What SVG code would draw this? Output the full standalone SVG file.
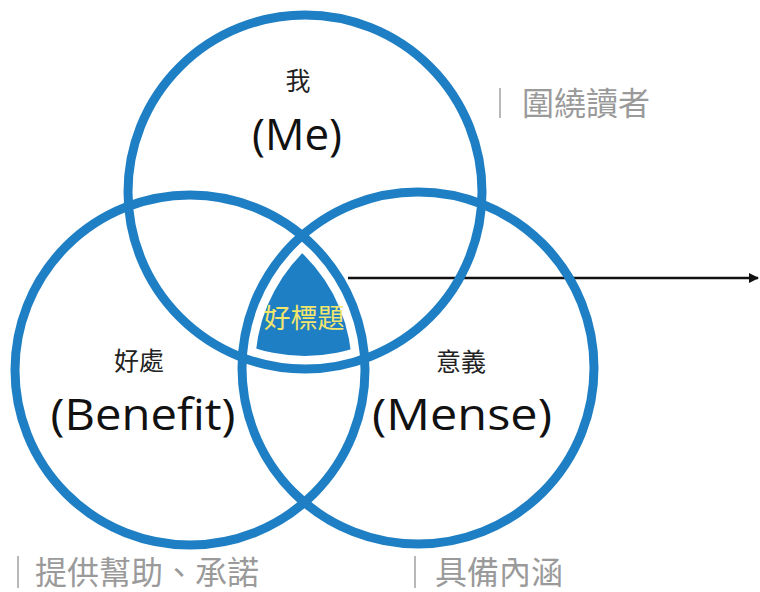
<svg xmlns="http://www.w3.org/2000/svg" width="760" height="592" viewBox="0 0 760 592">
<style>
.ring{fill:none;stroke:#1e7fc4;stroke-width:9}
.cjk{font-family:"Noto Sans CJK TC","Noto Sans CJK SC",sans-serif;text-anchor:middle;fill:#222}
.lat{font-family:"Open Sans","Noto Sans",sans-serif;text-anchor:middle;fill:#111;font-size:44px}
.note{font-family:"Noto Sans CJK TC","Noto Sans CJK SC",sans-serif;fill:#9a9a9a;font-size:32px}
.bar{stroke:#b8b8b8;stroke-width:2}
</style>
<defs>
<clipPath id="cL"><circle cx="190" cy="370" r="162"/></clipPath>
<clipPath id="cR"><circle cx="418" cy="368" r="163"/></clipPath>
<marker id="arr" viewBox="0 0 10 10" refX="9" refY="5" markerWidth="10" markerHeight="10" markerUnits="userSpaceOnUse" orient="auto">
<path d="M0,0 L10,5 L0,10 z" fill="#111"/>
</marker>
</defs>
<rect width="760" height="592" fill="#fff"/>
<g id="center-node">
<g clip-path="url(#cR)"><circle cx="305" cy="192" r="164" fill="#1e7fc4" clip-path="url(#cL)"/></g>
</g>
<g id="connectors">
<line x1="348" y1="278" x2="758" y2="278" stroke="#111" stroke-width="2.5" marker-end="url(#arr)"/>
</g>
<g id="me">
<circle class="ring" cx="305" cy="192" r="177"/>
<text class="cjk" x="298" y="90" font-size="25">我</text>
<text class="lat" x="297" y="150" textLength="90" lengthAdjust="spacingAndGlyphs">(Me)</text>
</g>
<g id="benefit">
<circle class="ring" cx="190" cy="370" r="175"/>
<text class="cjk" x="139" y="370" font-size="25">好處</text>
<text class="lat" x="143" y="430" textLength="185" lengthAdjust="spacingAndGlyphs">(Benefit)</text>
</g>
<g id="mense">
<circle class="ring" cx="418" cy="368" r="176"/>
<text class="cjk" x="461" y="371" font-size="25">意義</text>
<text class="lat" x="462" y="430" textLength="180" lengthAdjust="spacingAndGlyphs">(Mense)</text>
</g>
<g id="center-label">
<text class="cjk" x="304" y="328" font-size="27" style="fill:#f2e56c">好標題</text>
</g>
<g id="note-me">
<line class="bar" x1="500" y1="88" x2="500" y2="118"/>
<text class="note" x="522" y="115">圍繞讀者</text>
</g>
<g id="note-benefit">
<line class="bar" x1="18" y1="556" x2="18" y2="588"/>
<text class="note" x="35" y="584">提供幫助、承諾</text>
</g>
<g id="note-mense">
<line class="bar" x1="415" y1="556" x2="415" y2="588"/>
<text class="note" x="435" y="584">具備內涵</text>
</g>
</svg>
